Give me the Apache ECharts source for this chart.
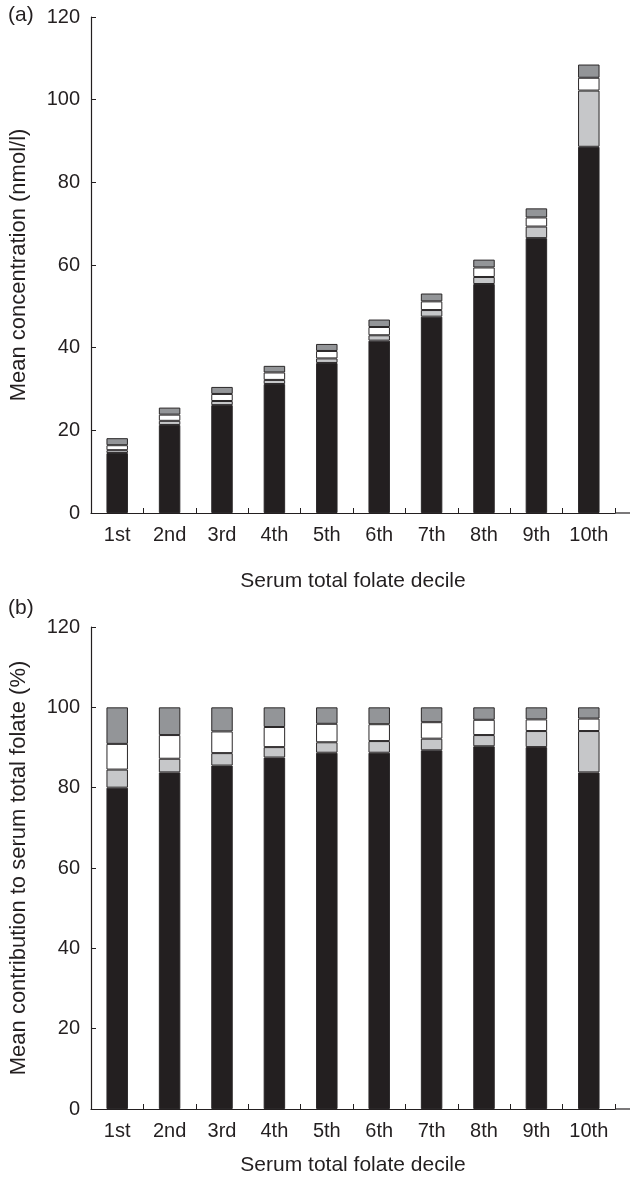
<!DOCTYPE html>
<html>
<head>
<meta charset="utf-8">
<script src="https://cdn.jsdelivr.net/npm/echarts@6/dist/echarts.min.js"></script>
<style>
html,body{margin:0;padding:0;background:#fff;}
#chart{width:632px;height:1177px;}
</style>
</head>
<body>
<div id="chart"></div>
<script>
// Categories
var deciles = ['1st','2nd','3rd','4th','5th','6th','7th','8th','9th','10th'];
var yTicks = [0, 20, 40, 60, 80, 100, 120];

// Panel (a): mean concentration (nmol/l), stacked bottom -> top
var concBlack = [14.5, 21.3, 26.1, 31.2, 36.3, 41.7, 47.5, 55.4, 66.5, 88.6];
var concLight = [0.7, 1.0, 1.0, 1.0, 1.1, 1.3, 1.6, 1.7, 2.8, 13.6];
var concWhite = [1.2, 1.5, 1.7, 1.8, 1.8, 2.0, 2.1, 2.3, 2.2, 3.1];
var concDark  = [1.7, 1.7, 1.7, 1.6, 1.7, 1.8, 1.9, 1.9, 2.2, 3.2];

// Panel (b): mean contribution to serum total folate (%), stacked bottom -> top
var pctBlack = [80.0, 83.8, 85.5, 87.5, 88.7, 88.7, 89.3, 90.3, 90.1, 83.8];
var pctLight = [4.5, 3.4, 3.1, 2.6, 2.6, 2.9, 2.9, 2.8, 4.0, 10.3];
var pctWhite = [6.4, 5.9, 5.4, 5.0, 4.6, 4.2, 4.1, 3.8, 2.9, 3.1];
var pctDark  = [9.1, 6.9, 6.0, 4.9, 4.1, 4.2, 3.7, 3.1, 3.0, 2.8];

var INK = '#231f20';
var FONT = 'Liberation Sans';
var colors = ['#231f20', '#c6c7c9', '#ffffff', '#939598'];

function xAxisCfg(gi, gap) {
  return {
    type: 'category', gridIndex: gi, data: deciles,
    boundaryGap: true,
    axisLine: {show: true, lineStyle: {color: INK, width: 1.2}},
    axisTick: {show: true, inside: true, length: 5, lineStyle: {color: INK}},
    axisLabel: {color: INK, fontSize: 20, fontFamily: FONT, margin: 12},
    name: 'Serum total folate decile', nameLocation: 'middle', nameGap: gap,
    nameTextStyle: {color: INK, fontSize: 21, fontFamily: FONT}
  };
}
function yAxisCfg(gi, name) {
  return {
    type: 'value', gridIndex: gi, min: yTicks[0], max: yTicks[yTicks.length-1], interval: 20,
    axisLine: {show: true, lineStyle: {color: INK, width: 1.2}},
    axisTick: {show: true, inside: true, length: 5, lineStyle: {color: INK}},
    axisLabel: {color: INK, fontSize: 20, fontFamily: FONT, margin: 11},
    splitLine: {show: false},
    name: name, nameLocation: 'middle', nameGap: 61, nameRotate: 90,
    nameTextStyle: {color: INK, fontSize: 22, fontFamily: FONT}
  };
}
function seriesSet(gi, arrs, stack) {
  return arrs.map(function (d, i) {
    return {
      type: 'bar', xAxisIndex: gi, yAxisIndex: gi, stack: stack, data: d,
      barWidth: '41%',
      itemStyle: {color: colors[i], borderColor: '#2a2728', borderWidth: 1},
      silent: true, animation: false
    };
  });
}

var GRID_RIGHT = 17;
var chart = echarts.init(document.getElementById('chart'), null, {renderer: 'canvas'});
chart.setOption({
  animation: false,
  backgroundColor: '#fff',
  grid: [
    {left: 90, right: GRID_RIGHT, top: 17, height: 496},
    {left: 90, right: GRID_RIGHT, top: 627, height: 486}
  ],
  xAxis: [xAxisCfg(0, 58), xAxisCfg(1, 46)],
  yAxis: [yAxisCfg(0, 'Mean concentration (nmol/l)'), yAxisCfg(1, 'Mean contribution to serum total folate (%)')],
  series: [].concat(
    seriesSet(0, [concBlack, concLight, concWhite, concDark], 'a'),
    seriesSet(1, [pctBlack, pctLight, pctWhite, pctDark], 'b')
  )
});
// extend each x-axis baseline a little past the last category, as in the original
var ext = [0, 1].map(function (gi) {
  var y0 = chart.convertToPixel({yAxisIndex: gi}, 0);
  var xEnd = 632 - GRID_RIGHT;
  return {type: 'line', shape: {x1: xEnd, y1: y0, x2: 630, y2: y0}, style: {stroke: INK, lineWidth: 1.2}};
});
chart.setOption({
  graphic: [
    {type: 'text', left: 8, top: 5, style: {text: '(a)', fill: INK, font: '21px "Liberation Sans"'}},
    {type: 'text', left: 8, top: 598, style: {text: '(b)', fill: INK, font: '21px "Liberation Sans"'}}
  ].concat(ext)
});
</script>
</body>
</html>
